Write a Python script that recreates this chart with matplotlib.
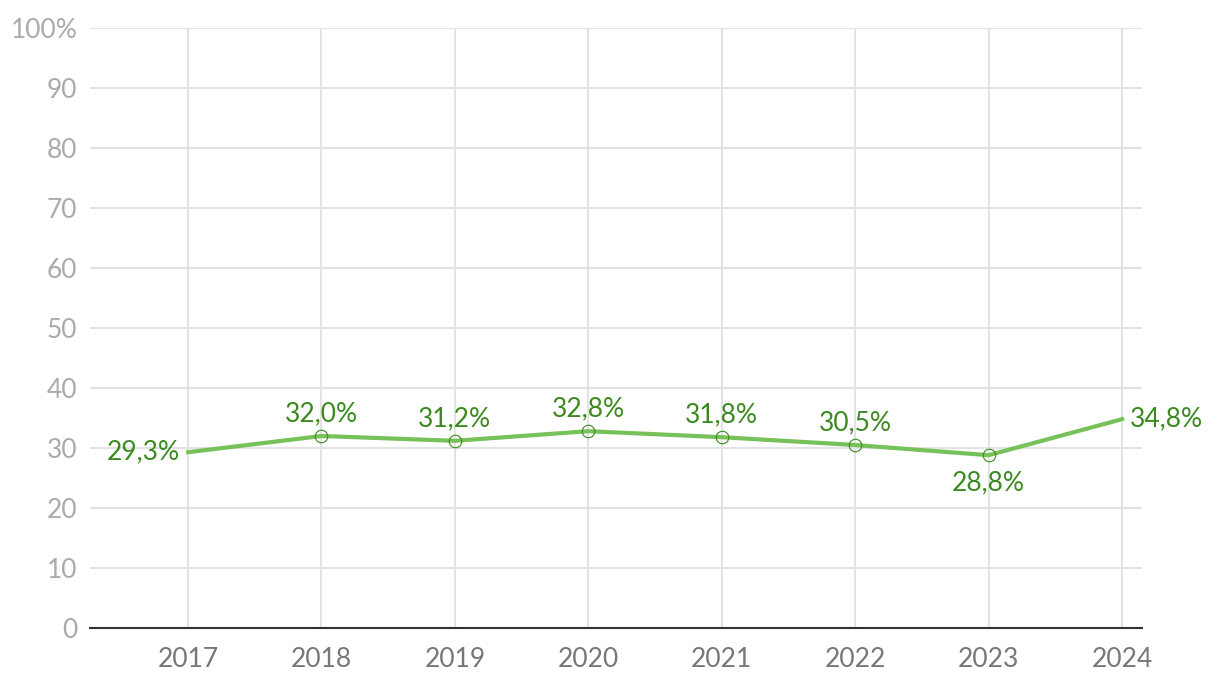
import numpy as np
from matplotlib import pyplot as plt

years = ['2017', '2018', '2019', '2020', '2021', '2022', '2023', '2024']
values = [29.3, 32.0, 31.2, 32.8, 31.8, 30.5, 28.8, 34.8]
labels = ['29,3%', '32,0%', '31,2%', '32,8%', '31,8%', '30,5%', '28,8%', '34,8%']
yticks = [0, 10, 20, 30, 40, 50, 60, 70, 80, 90, 100]
ytick_labels = ['0', '10', '20', '30', '40', '50', '60', '70', '80', '90', '100%']

plt.rcParams['font.family'] = ['Lato', 'DejaVu Sans']

fig = plt.figure(figsize=(12.2, 6.92), dpi=100)
ax = fig.add_axes([90 / 1220, 64 / 692, 1052 / 1220, 600 / 692])

x = np.arange(len(years))
ax.plot(x, values, color='#77c15a', lw=3, zorder=3)
ax.plot(x[1:-1], values[1:-1], 'o', ms=9, mfc='none', mec='#3a8a1f', mew=0.8, zorder=4)

green = '#3a8a1f'
fs = 19
for i, (v, t) in enumerate(zip(values, labels)):
    if i == 0:
        ax.annotate(t, (i, v), xytext=(-6, 0), textcoords='offset points',
                    ha='right', va='center', color=green, fontsize=fs)
    elif i == len(values) - 1:
        ax.annotate(t, (i, v), xytext=(6, 0), textcoords='offset points',
                    ha='left', va='center', color=green, fontsize=fs)
    elif i == 6:
        ax.annotate(t, (i, v), xytext=(0, -11), textcoords='offset points',
                    ha='center', va='top', color=green, fontsize=fs)
    else:
        ax.annotate(t, (i, v), xytext=(0, 7), textcoords='offset points',
                    ha='center', va='bottom', color=green, fontsize=fs)

ax.set_xlim(-0.735, 7.15)
ax.set_ylim(0, 100)
ax.set_xticks(x)
ax.set_xticklabels(years, color='#777777', fontsize=fs)
ax.set_yticks(yticks)
ax.set_yticklabels(ytick_labels, color='#aaaaaa', fontsize=fs)
ax.tick_params(length=0, pad=9)
ax.tick_params(axis='x', pad=14)
ax.grid(True, color='#e3e3e3', lw=1.5)
ax.set_axisbelow(True)
for s in ['top', 'right', 'left']:
    ax.spines[s].set_visible(False)
ax.spines['bottom'].set_color('#333333')
ax.spines['bottom'].set_linewidth(1.5)
ax.spines['bottom'].set_zorder(5)

plt.savefig('out.png', dpi=100)
